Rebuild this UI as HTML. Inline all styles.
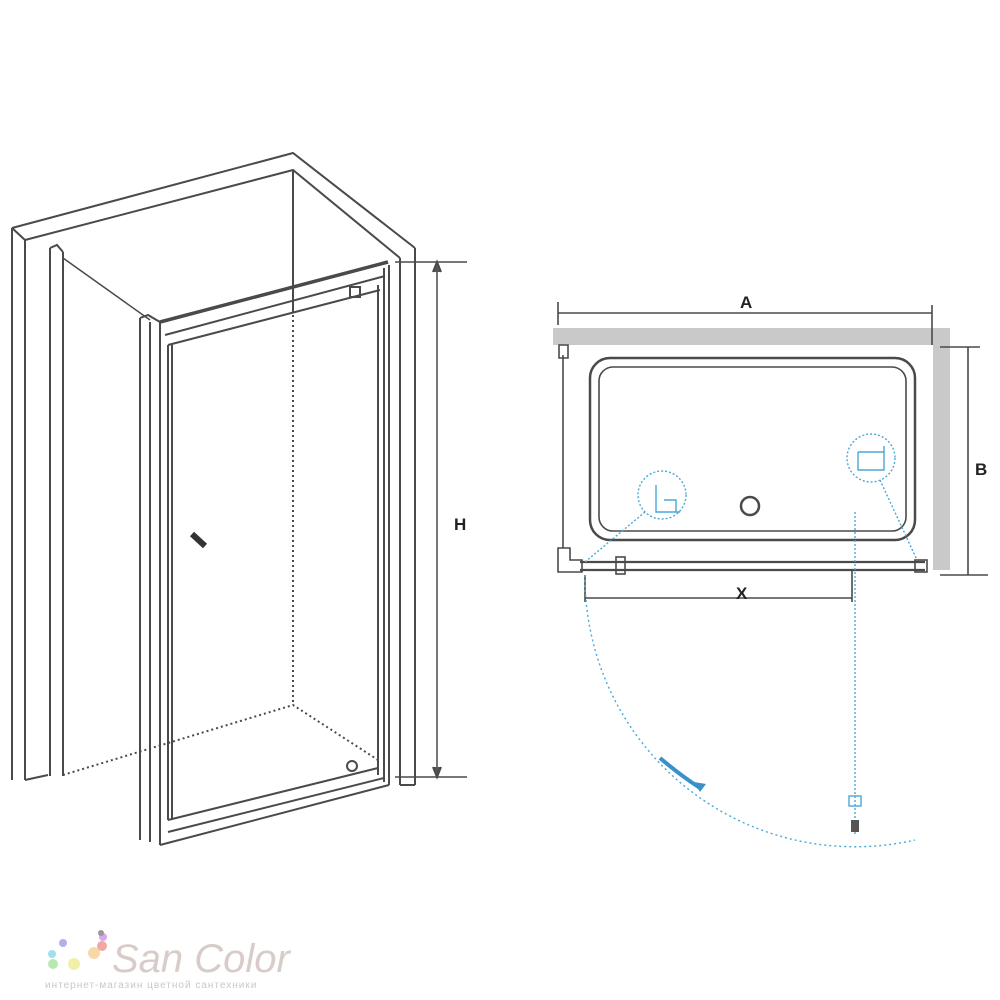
<!DOCTYPE html>
<html><head><meta charset="utf-8"><style>
body{margin:0;background:#fff;width:1000px;height:1000px;overflow:hidden}
svg{display:block}
text{font-family:"Liberation Sans",sans-serif}
</style></head><body>
<svg width="1000" height="1000" viewBox="0 0 1000 1000" xmlns="http://www.w3.org/2000/svg">
<g fill="none" stroke="#4a4a4a" stroke-width="2">
<!-- walls -->
<path d="M12,228 L293,153 L415,248"/>
<path d="M25,240 L293,170 L400,258"/>
<path d="M12,228 L25,240"/>
<path d="M12,228 V780 M25,240 V780 M25,780 L48,775"/>
<path d="M400,258 V785 M415,248 V785 M400,785 H415"/>
<path d="M293,170 V310"/>
<!-- left panel -->
<path d="M50,248 V776 M63,252 V776 M50,248 L57,245 L63,252"/>
<path d="M63,258 L150,320" stroke-width="1.5"/>
<!-- floor dashed -->
<path d="M63,775 L293,705 L378,760" stroke-dasharray="2,3"/>
<path d="M293,310 V705" stroke-dasharray="2,3" stroke-width="2"/>
<!-- front post -->
<path d="M140,318 V840 M150,322 V842 M160,322 V845 M140,318 L148,315 L160,322"/>
<!-- top rail -->
<path d="M160,322 L388,262" stroke-width="3.5"/>
<path d="M165,335 L385,276"/>
<path d="M168,345 L380,290"/>
<!-- door -->
<path d="M168,345 V820 M172,345 V820"/>
<path d="M378,285 V775 M384,268 V782 M389,265 V785"/>
<path d="M168,820 L378,768 M160,845 L389,785 M168,832 L384,778"/>
<rect x="350" y="287" width="10" height="10"/>
<circle cx="352" cy="766" r="5"/>
<!-- handle -->
<path d="M192,534 L205,546" stroke-width="6" stroke="#333"/>
<!-- H dimension -->
<path d="M395,262 H467 M395,777 H467 M437,262 V777" stroke-width="1.5"/>
<path d="M433,272 L437,262 L441,272 M433,767 L437,777 L441,767" fill="#555"/>
</g>
<text x="454" y="530" font-size="17" font-weight="bold" fill="#222">H</text>

<!-- right plan -->
<rect x="553" y="328" width="397" height="17" fill="#c9c9c9"/>
<rect x="933" y="345" width="17" height="225" fill="#c9c9c9"/>
<g fill="none" stroke="#4a4a4a" stroke-width="1.6">
<path d="M558,302 V325 M932,305 V345 M558,313 H932"/>
<path d="M940,347 H980 M940,575 H988 M968,347 V575"/>
<rect x="590" y="358" width="325" height="182" rx="20" stroke-width="2.5"/>
<rect x="599" y="367" width="307" height="164" rx="14"/>
<circle cx="750" cy="506" r="9" stroke-width="2.5"/>
<path d="M563,355 V548 M559,345 H568 V358 H559 Z"/>
<path d="M558,548 V572 H582 V560 H570 V548 Z"/>
<path d="M580,562 H925 M580,570 H925" stroke-width="2.2"/>
<rect x="616" y="557" width="9" height="17"/>
<rect x="915" y="560" width="12" height="12"/>
<path d="M585,575 V602 M852,570 V602 M585,598 H852"/>
</g>
<text x="740" y="308" font-size="17" font-weight="bold" fill="#222">A</text>
<text x="975" y="475" font-size="17" font-weight="bold" fill="#222">B</text>
<text x="736" y="599" font-size="17" font-weight="bold" fill="#222">X</text>
<g fill="none" stroke="#4aa8d8" stroke-width="1.4">
<circle cx="662" cy="495" r="24" stroke-dasharray="2,2"/>
<circle cx="871" cy="458" r="24" stroke-dasharray="2,2"/>
<path d="M656,485 V512 H680 M664,500 H676 V512"/>
<path d="M858,452 H884 M858,452 V470 H884 V446"/>
<path d="M645,512 L585,562" stroke-dasharray="2,2"/>
<path d="M880,480 L917,560" stroke-dasharray="2,2"/>
<path d="M855,512 V835" stroke-dasharray="2,2"/>
<path d="M585,575 A270,270 0 0 0 915,840" stroke-dasharray="2,3"/>
<path d="M660,758 Q680,775 700,788" stroke-width="4" stroke="#3a90c8"/>
<rect x="849" y="796" width="12" height="10"/>
</g>
<path d="M700,792 L706,784 L694,782 Z" fill="#3a90c8"/>
<rect x="851" y="820" width="8" height="12" fill="#555"/>

<!-- logo -->
<g>
<circle cx="103" cy="937" r="4" fill="#d9a8e8"/>
<circle cx="63" cy="943" r="4" fill="#b0b0e8"/>
<circle cx="102" cy="946" r="5" fill="#f0a8a0"/>
<circle cx="52" cy="954" r="4" fill="#a0e0f0"/>
<circle cx="94" cy="953" r="6" fill="#f8d8a8"/>
<circle cx="53" cy="964" r="5" fill="#b8e8b0"/>
<circle cx="74" cy="964" r="6" fill="#f0f0a8"/>
<circle cx="101" cy="933" r="3" fill="#999"/>
</g>
<text x="112" y="972" font-family="Liberation Serif,serif" font-style="italic" font-size="40" fill="#d8ccc8">San Color</text>
<text x="45" y="988" font-size="10" fill="#c8c8c8" letter-spacing="1">интернет-магазин цветной сантехники</text>
</svg>
</body></html>
